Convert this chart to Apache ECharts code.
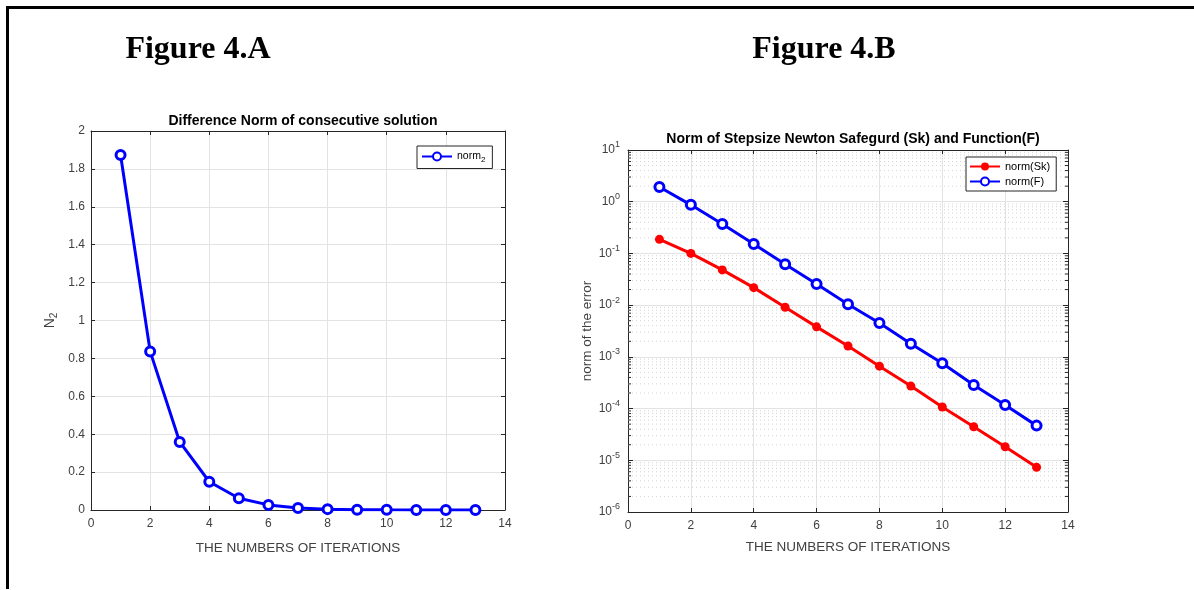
<!DOCTYPE html>
<html>
<head>
<meta charset="utf-8">
<title>Figure 4</title>
<script src="https://cdn.jsdelivr.net/npm/echarts@6/dist/echarts.min.js"></script>
<style>
  html, body { margin: 0; padding: 0; background: #fff; }
  #main { width: 1194px; height: 590px; }
  /* page frame (left and top rule) */
  #frame { position: absolute; left: 6px; top: 6px; width: 1188px; height: 580px;
           border-left: 3px solid #000; border-top: 3px solid #000; pointer-events: none; }
</style>
</head>
<body>
<div id="main"></div>
<div id="frame"></div>
<script type="text/javascript">
// iterations
var iters = [1, 2, 3, 4, 5, 6, 7, 8, 9, 10, 11, 12, 13];
// Figure 4.A  difference norm of consecutive solution
var diffNorm = [1.873, 0.837, 0.359, 0.149, 0.062, 0.027, 0.011, 0.0046, 0.0019, 0.0008, 0.00033, 0.00014, 0.00006];
// Figure 4.B  norm(Sk) and norm(F)
var normSk = [0.187, 0.1, 0.048, 0.0218, 0.0091, 0.0038, 0.00162, 0.00066, 0.000272, 0.000107, 0.0000446, 0.0000183, 0.0000073];
var normF  = [1.93, 0.87, 0.37, 0.152, 0.062, 0.0257, 0.0104, 0.0045, 0.0018, 0.00075, 0.000285, 0.000117, 0.0000468];

// log axis decades
var decades = [-6, -5, -4, -3, -2, -1, 0, 1];
// minor log grid positions (2..9 in each decade)
var minorLog = [];
for (var d = 0; d < decades.length - 1; d++) {
    for (var m = 2; m <= 9; m++) {
        minorLog.push([0, m * Math.pow(10, decades[d])]);
    }
}

var axisColor = '#262626';
var labelColor = '#404040';
var gridColor = '#e3e3e3';
var font = 'Liberation Sans, Arial, Helvetica, sans-serif';

function pairs(ys) {
    return iters.map(function (x, i) { return [x, ys[i]]; });
}

var chart = echarts.init(document.getElementById('main'));

var xBase = {
    type: 'value', min: 0, max: 14, interval: 2,
    axisLine: { show: true, onZero: false, lineStyle: { color: axisColor, width: 1 } },
    axisTick: { show: true, inside: true, length: 4, lineStyle: { color: axisColor } },
    axisLabel: { color: labelColor, fontSize: 12, fontFamily: font, margin: 8 },
    splitLine: { show: true, lineStyle: { color: gridColor, width: 1 } }
};
function mirrorX(grid) {
    return {
        gridIndex: grid, type: 'value', min: 0, max: 14, interval: 2, position: 'top',
        axisLine: { show: true, onZero: false, lineStyle: { color: axisColor } },
        axisTick: { show: true, inside: true, length: 4, lineStyle: { color: axisColor } },
        axisLabel: { show: false }, splitLine: { show: false }
    };
}

var blueDot = { color: '#ffffff', borderColor: '#0000ff', borderWidth: 3 };

option = {
    animation: false,
    backgroundColor: '#fff',
    title: [
        { text: 'Figure 4.A', left: 193, top: 29, textAlign: 'center',
          textStyle: { fontFamily: 'Liberation Serif, Times New Roman, serif', fontSize: 32, fontWeight: 'bold', color: '#000' } },
        { text: 'Figure 4.B', left: 819, top: 29, textAlign: 'center',
          textStyle: { fontFamily: 'Liberation Serif, Times New Roman, serif', fontSize: 32, fontWeight: 'bold', color: '#000' } },
        { text: 'Difference Norm of consecutive solution', left: 298, top: 109, textAlign: 'center',
          textStyle: { fontFamily: font, fontSize: 14, fontWeight: 'bold', color: '#000' } },
        { text: 'Norm of Stepsize Newton Safegurd (Sk) and Function(F)', left: 848, top: 127, textAlign: 'center',
          textStyle: { fontFamily: font, fontSize: 14, fontWeight: 'bold', color: '#000' } }
    ],
    legend: [
        {
            data: ['norm2'], left: 417, top: 146, orient: 'vertical',
            itemWidth: 30, itemHeight: 10, padding: [5, 7, 5, 4],
            borderColor: axisColor, borderWidth: 1, backgroundColor: '#fff',
            formatter: function () { return 'norm{sub|2}'; },
            textStyle: { fontSize: 10.5, fontFamily: font, color: '#000',
                rich: { sub: { fontSize: 8, verticalAlign: 'bottom', padding: [6, 0, 0, 0] } } }
        },
        {
            data: ['norm(Sk)', 'norm(F)'], left: 966, top: 157, orient: 'vertical',
            itemWidth: 30, itemHeight: 10, itemGap: 4, padding: [4, 6, 4, 3],
            borderColor: axisColor, borderWidth: 1, backgroundColor: '#fff',
            textStyle: { fontSize: 11, fontFamily: font, color: '#000' }
        }
    ],
    grid: [
        { left: 91, top: 131, width: 414, height: 379 },
        { left: 628, top: 150, width: 440, height: 362 }
    ],
    xAxis: [
        Object.assign({}, xBase, {
            gridIndex: 0, name: 'THE NUMBERS OF ITERATIONS', nameLocation: 'middle', nameGap: 31,
            nameTextStyle: { fontSize: 13.5, fontFamily: font, color: labelColor }
        }),
        Object.assign({}, xBase, {
            gridIndex: 1, name: 'THE NUMBERS OF ITERATIONS', nameLocation: 'middle', nameGap: 28,
            nameTextStyle: { fontSize: 13.5, fontFamily: font, color: labelColor }
        }),
        mirrorX(0),
        mirrorX(1)
    ],
    yAxis: [
        {
            gridIndex: 0, type: 'value', min: 0, max: 2, interval: 0.2,
            name: 'N{sub|2}', nameLocation: 'middle', nameGap: 32, nameRotate: 90,
            nameTextStyle: { fontSize: 14, fontFamily: font, color: labelColor,
                rich: { sub: { fontSize: 10, padding: [8, 0, 0, 0], color: labelColor } } },
            axisLine: { show: true, onZero: false, lineStyle: { color: axisColor } },
            axisTick: { show: true, inside: true, length: 4, lineStyle: { color: axisColor } },
            axisLabel: { color: labelColor, fontSize: 12, fontFamily: font, margin: 6 },
            splitLine: { show: true, lineStyle: { color: gridColor } }
        },
        {
            gridIndex: 1, type: 'log', logBase: 10, min: 1e-6, max: 10,
            name: 'norm of the error', nameLocation: 'middle', nameGap: 33, nameRotate: 90,
            nameTextStyle: { fontSize: 13.5, fontFamily: font, color: labelColor },
            axisLine: { show: true, onZero: false, lineStyle: { color: axisColor } },
            axisTick: { show: true, inside: true, length: 5, lineStyle: { color: axisColor } },
            axisLabel: {
                color: labelColor, fontSize: 12, fontFamily: font, margin: 8,
                formatter: function (v) {
                    return '10{sup|' + Math.round(Math.log10(v)) + '}';
                },
                rich: { sup: { fontSize: 9, color: labelColor, padding: [0, 0, 10, 0] } }
            },
            splitLine: { show: true, lineStyle: { color: gridColor } }
        },
        {
            gridIndex: 0, type: 'value', min: 0, max: 2, interval: 0.2, position: 'right',
            axisLine: { show: true, onZero: false, lineStyle: { color: axisColor } },
            axisTick: { show: true, inside: true, length: 4, lineStyle: { color: axisColor } },
            axisLabel: { show: false }, splitLine: { show: false }
        },
        {
            gridIndex: 1, type: 'log', logBase: 10, min: 1e-6, max: 10, position: 'right',
            axisLine: { show: true, onZero: false, lineStyle: { color: axisColor } },
            axisTick: { show: true, inside: true, length: 5, lineStyle: { color: axisColor } },
            axisLabel: { show: false }, splitLine: { show: false }
        }
    ],
    series: [
        {
            // minor log grid + minor ticks
            type: 'custom', xAxisIndex: 1, yAxisIndex: 1, silent: true, z: 1,
            data: minorLog,
            renderItem: function (params, api) {
                var v = api.value(1);
                var p0 = api.coord([0, v]);
                var p1 = api.coord([14, v]);
                return {
                    type: 'group',
                    children: [
                        { type: 'line', shape: { x1: p0[0], y1: p0[1], x2: p1[0], y2: p1[1] },
                          style: { stroke: '#d4d4d4', lineWidth: 1, lineDash: [1, 3] } },
                        { type: 'line', shape: { x1: p0[0], y1: p0[1], x2: p0[0] + 3, y2: p0[1] },
                          style: { stroke: axisColor, lineWidth: 1 } },
                        { type: 'line', shape: { x1: p1[0], y1: p1[1], x2: p1[0] - 3, y2: p1[1] },
                          style: { stroke: axisColor, lineWidth: 1 } }
                    ]
                };
            }
        },
        {
            name: 'norm2', type: 'line', xAxisIndex: 0, yAxisIndex: 0, z: 3,
            data: pairs(diffNorm),
            symbol: 'circle', symbolSize: 9,
            lineStyle: { color: '#0000ff', width: 3 },
            itemStyle: blueDot
        },
        {
            name: 'norm(Sk)', type: 'line', xAxisIndex: 1, yAxisIndex: 1, z: 3,
            data: pairs(normSk),
            symbol: 'circle', symbolSize: 9,
            lineStyle: { color: '#ff0000', width: 3 },
            itemStyle: { color: '#ff0000' }
        },
        {
            name: 'norm(F)', type: 'line', xAxisIndex: 1, yAxisIndex: 1, z: 3,
            data: pairs(normF),
            symbol: 'circle', symbolSize: 9,
            lineStyle: { color: '#0000ff', width: 3 },
            itemStyle: blueDot
        }
    ]
};

chart.setOption(option);
</script>
</body>
</html>
